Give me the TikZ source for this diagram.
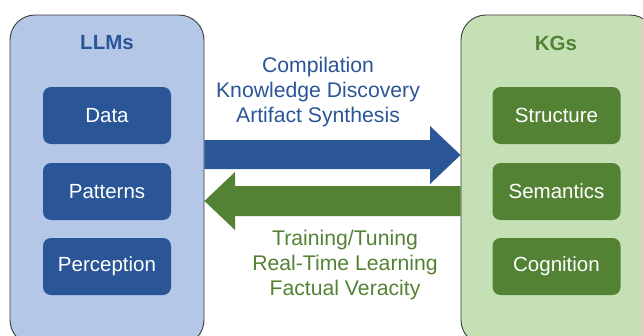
\documentclass[tikz,border=0pt]{standalone}
\usepackage{fontspec}
\setmainfont{Liberation Sans}
\definecolor{lblue}{HTML}{B4C7E7}
\definecolor{dblue}{HTML}{2A5597}
\definecolor{lgreen}{HTML}{C5E0B4}
\definecolor{dgreen}{HTML}{548235}
\definecolor{edge}{HTML}{3A3A3A}
\begin{document}
\begin{tikzpicture}[x=1pt,y=-1pt,
  panel/.style={draw=edge, line width=0.9pt, rounded corners=25pt, minimum width=194pt, minimum height=330pt, inner sep=0pt},
  title/.style={font=\fontsize{20.5}{24}\selectfont\bfseries},
  inbox/.style={rounded corners=8pt, minimum width=128pt, minimum height=57pt, inner sep=0pt, text=white, font=\fontsize{20.5}{24}\selectfont},
  lbl/.style={align=center, font=\fontsize{21.2}{25}\selectfont}]
\useasboundingbox (0,0) rectangle (643,335);
\clip (0,0) rectangle (643,335);
% panels
\node[panel, fill=lblue] (llm) at (107,180) {};
\node[panel, fill=lgreen] (kg) at (558,180) {};
\node[title, text=dblue] (llmt) at (107,43) {LLMs};
\node[title, text=dgreen] (kgt) at (556,43) {KGs};
% inner boxes
\node[inbox, fill=dblue] (data) at (107,115.5) {Data};
\node[inbox, fill=dblue] (pat) at (107,191.5) {Patterns};
\node[inbox, fill=dblue] (per) at (107,266.5) {Perception};
\node[inbox, fill=dgreen] (str) at (556.5,115.5) {Structure};
\node[inbox, fill=dgreen] (sem) at (556.5,191.5) {Semantics};
\node[inbox, fill=dgreen] (cog) at (556.5,266.5) {Cognition};
% arrows
\fill[dblue] (llm.east |- 0,140) -- (430,140) -- (430,126) -- (kg.west |- 0,155) -- (430,184) -- (430,169) -- (llm.east |- 0,169) -- cycle;
\fill[dgreen] (kg.west |- 0,186) -- (235,186) -- (235,172) -- (llm.east |- 0,201) -- (235,230) -- (235,216) -- (kg.west |- 0,216) -- cycle;
% labels
\node[lbl, text=dblue] (up) at (318,92) {Compilation\\Knowledge Discovery\\Artifact Synthesis};
\node[lbl, text=dgreen] (dn) at (345,265) {Training/Tuning\\Real-Time Learning\\Factual Veracity};
\end{tikzpicture}
\end{document}
